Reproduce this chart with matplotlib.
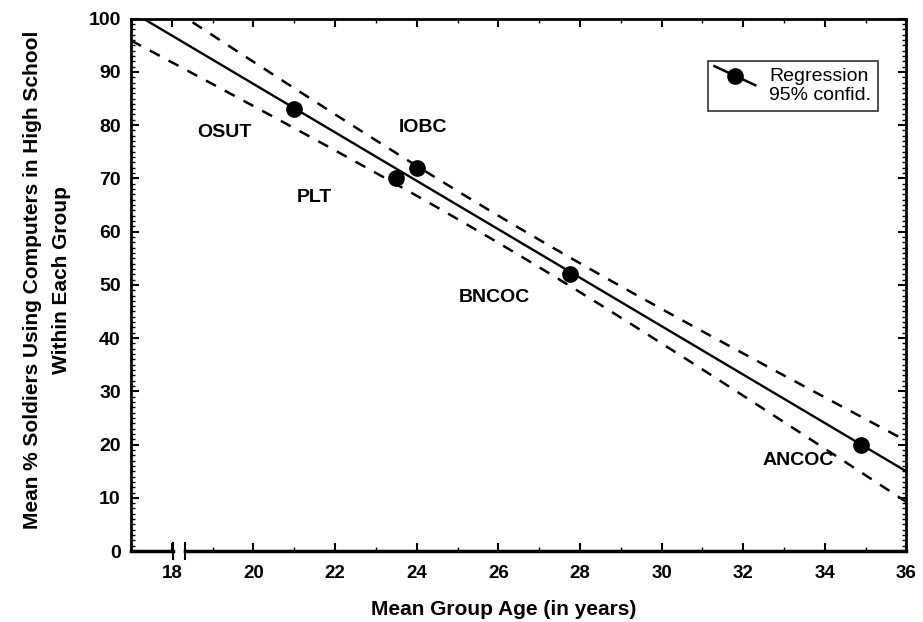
import numpy as np
import matplotlib
matplotlib.use('Agg')
import matplotlib.pyplot as plt
from matplotlib.lines import Line2D
from matplotlib.ticker import MultipleLocator
import matplotlib.transforms as mtransforms


# Group data.
groups = ['OSUT', 'PLT', 'IOBC', 'BNCOC', 'ANCOC']
mean_age = [21.0, 23.5, 24.0, 27.75, 34.9]
pct_computers = [83, 70, 72, 52, 20]
label_x = [19.3, 21.5, 24.15, 25.9, 33.35]
label_y = [78.6, 66.5, 79.5, 47.6, 17.1]

# Linear regression with 95% confidence band (t for 3 df).
t_crit = 3.182
x = np.array(mean_age)
y = np.array(pct_computers, dtype=float)
slope, intercept = np.polyfit(x, y, 1)
resid = y - (slope * x + intercept)
s = np.sqrt(np.sum(resid ** 2) / (len(x) - 2))
sxx = np.sum((x - x.mean()) ** 2)
xs = np.linspace(17, 36, 200)
fit = slope * xs + intercept
half = t_crit * s * np.sqrt(1 / len(x) + (xs - x.mean()) ** 2 / sxx)

plt.rcParams['font.family'] = ['Liberation Sans', 'DejaVu Sans']

fig = plt.figure(figsize=(9.23, 6.22), dpi=100)
ax = fig.add_axes([0.142, 0.114, 0.840, 0.856])

ax.plot(xs, fit, color='black', lw=1.7)
ax.plot(xs, fit + half, color='black', lw=1.8, dashes=(4.5, 4))
ax.plot(xs, fit - half, color='black', lw=1.8, dashes=(4.5, 4))
ax.plot(x, y, 'o', color='black', ms=11)

for name, lx, ly in zip(groups, label_x, label_y):
    ax.text(lx, ly, name, ha='center', va='center', fontsize=14, fontweight='bold')

ax.set_xlim(17, 36)
ax.set_ylim(0, 100)
ax.xaxis.set_major_locator(MultipleLocator(2))
ax.xaxis.set_minor_locator(MultipleLocator(1))
ax.yaxis.set_major_locator(MultipleLocator(10))
ax.yaxis.set_minor_locator(MultipleLocator(1))
ax.tick_params(which='both', direction='in', top=True, right=True)
ax.tick_params(which='major', length=6, width=1.5)
ax.tick_params(which='minor', length=3, width=1)
ax.tick_params(axis='x', which='major', labelsize=13.5, pad=10)
ax.tick_params(axis='y', which='major', labelsize=14, pad=7.5)
for lab in ax.get_xticklabels() + ax.get_yticklabels():
    lab.set_fontweight('bold')

for sp in ax.spines.values():
    sp.set_linewidth(2)

# Broken x axis near 18.
ax.spines['bottom'].set_visible(False)
trans = mtransforms.blended_transform_factory(ax.transData, ax.transAxes)
ax.plot([17, 18.02], [0, 0], color='black', lw=2.5, transform=trans, clip_on=False)
ax.plot([18.32, 36], [0, 0], color='black', lw=2.5, transform=trans, clip_on=False)
for bx in (18.02, 18.32):
    ax.plot([bx, bx], [-0.015, 0.015], color='black', lw=1.5, transform=trans, clip_on=False)

ax.set_xlabel('Mean Group Age (in years)', fontsize=15, fontweight='bold')
ax.xaxis.set_label_coords(0.48, -0.091)
ax.set_ylabel('Mean % Soldiers Using Computers in High School\nWithin Each Group',
              fontsize=15, fontweight='bold', linespacing=1.7)
ax.yaxis.set_label_coords(-0.077, 0.51)


class SlopedHandle:
    def legend_artist(self, legend, orig_handle, fontsize, handlebox):
        x0, y0 = handlebox.xdescent, handlebox.ydescent
        w, h = handlebox.width, handlebox.height
        tr = handlebox.get_transform()
        line = Line2D([x0, x0 + w], [y0 + h * 1.1, y0 - 0.3 * h], color='black', lw=1.8, transform=tr)
        dot = Line2D([x0 + w / 2], [y0 + h * 0.4], marker='o', ms=11, color='black',
                     linestyle='none', transform=tr)
        handlebox.add_artist(line)
        handlebox.add_artist(dot)
        return line


reg_handle = Line2D([], [], color='black')
conf_handle = Line2D([], [], color='none')
leg = ax.legend([reg_handle, conf_handle], ['Regression', '95% confid.'],
                handler_map={reg_handle: SlopedHandle()},
                loc='upper right', bbox_to_anchor=(0.963, 0.921),
                fontsize=14, frameon=True, fancybox=False, edgecolor='black',
                handlelength=2.1, handletextpad=0.7, labelspacing=0.05,
                borderpad=0.35, borderaxespad=0)
leg.get_frame().set_linewidth(1.2)

fig.savefig('out.png', dpi=100)
